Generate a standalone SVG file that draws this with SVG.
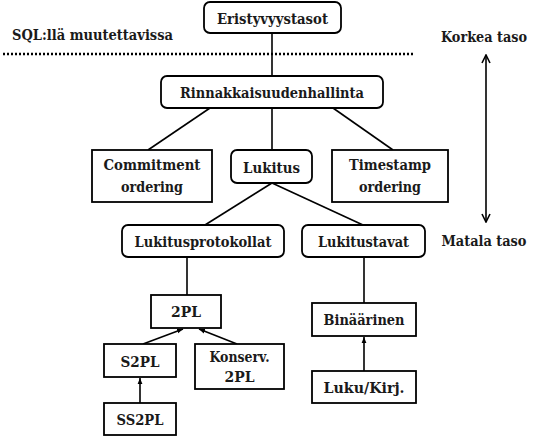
<svg xmlns="http://www.w3.org/2000/svg" width="541" height="440" viewBox="0 0 541 440">
<style>
.box{fill:#fff;stroke:#000;stroke-width:1.8}
.t{font-family:"DejaVu Serif","Liberation Serif",serif;font-weight:bold;font-size:15px;fill:#1a1a1a;text-anchor:middle}
.s{font-size:14px}
.c{stroke:#000;stroke-width:1.6;fill:none}
</style>
<defs>
<marker id="ah" viewBox="0 0 10 10" refX="10" refY="5" markerWidth="6" markerHeight="6" orient="auto-start-reverse" markerUnits="userSpaceOnUse">
<path d="M0,1 L10,5 L0,9 z" fill="#000"/>
</marker>
<marker id="va" viewBox="0 0 10 10" refX="9" refY="5" markerWidth="10" markerHeight="10" orient="auto-start-reverse" markerUnits="userSpaceOnUse">
<path d="M1,1 L9,5 L1,9" fill="none" stroke="#000" stroke-width="1.6"/>
</marker>
</defs>
<rect width="541" height="440" fill="#fff"/>
<g id="connectors">
<line class="c" x1="272" y1="33" x2="272" y2="76"/>
<line class="c" x1="210" y1="108" x2="148" y2="150"/>
<line class="c" x1="272" y1="108" x2="272" y2="150"/>
<line class="c" x1="333" y1="108" x2="393" y2="150"/>
<line class="c" x1="272" y1="183" x2="205" y2="225"/>
<line class="c" x1="272" y1="183" x2="363" y2="225"/>
<line class="c" x1="187" y1="257" x2="187" y2="295"/>
<line class="c" x1="364" y1="257" x2="364" y2="303"/>
<line class="c" x1="143" y1="344" x2="183" y2="329" marker-end="url(#ah)"/>
<line class="c" x1="237" y1="344" x2="199" y2="329" marker-end="url(#ah)"/>
<line class="c" x1="140" y1="403" x2="140" y2="378" marker-end="url(#ah)"/>
<line class="c" x1="364" y1="371" x2="364" y2="337" marker-end="url(#ah)"/>
</g>
<g id="level-divider">
<line x1="3" y1="54" x2="413" y2="54" stroke="#000" stroke-width="2.5" stroke-dasharray="2 2"/>
<text class="t" x="12" y="40" style="text-anchor:start" textLength="161" lengthAdjust="spacingAndGlyphs">SQL:llä muutettavissa</text>
</g>
<g id="level-axis">
<text class="t s" x="484" y="42" textLength="86" lengthAdjust="spacingAndGlyphs">Korkea taso</text>
<line class="c" x1="486" y1="55" x2="486" y2="222" marker-start="url(#va)" marker-end="url(#va)"/>
<text class="t s" x="484" y="246" textLength="85" lengthAdjust="spacingAndGlyphs">Matala taso</text>
</g>
<g id="eristyvyystasot">
<rect class="box" x="204" y="2" width="137" height="31" rx="6"/>
<text class="t" x="272.5" y="24" textLength="111" lengthAdjust="spacingAndGlyphs">Eristyvyystasot</text>
</g>
<g id="rinnakkaisuudenhallinta">
<rect class="box" x="161" y="76" width="222" height="32" rx="6"/>
<text class="t" x="272" y="98" textLength="184" lengthAdjust="spacingAndGlyphs">Rinnakkaisuudenhallinta</text>
</g>
<g id="commitment-ordering">
<rect class="box" x="92" y="150" width="120" height="52"/>
<text class="t" x="152" y="170" textLength="97" lengthAdjust="spacingAndGlyphs">Commitment</text>
<text class="t" x="152" y="192" textLength="62" lengthAdjust="spacingAndGlyphs">ordering</text>
</g>
<g id="lukitus">
<rect class="box" x="231" y="150" width="81" height="33" rx="6"/>
<text class="t" x="271.5" y="173" textLength="57" lengthAdjust="spacingAndGlyphs">Lukitus</text>
</g>
<g id="timestamp-ordering">
<rect class="box" x="332" y="150" width="116" height="52"/>
<text class="t" x="390" y="170" textLength="82" lengthAdjust="spacingAndGlyphs">Timestamp</text>
<text class="t" x="390" y="192" textLength="62" lengthAdjust="spacingAndGlyphs">ordering</text>
</g>
<g id="lukitusprotokollat">
<rect class="box" x="122" y="225" width="162" height="32" rx="6"/>
<text class="t" x="203" y="247" textLength="137" lengthAdjust="spacingAndGlyphs">Lukitusprotokollat</text>
</g>
<g id="lukitustavat">
<rect class="box" x="302" y="225" width="123" height="32" rx="6"/>
<text class="t" x="363.5" y="247" textLength="91" lengthAdjust="spacingAndGlyphs">Lukitustavat</text>
</g>
<g id="n2pl">
<rect class="box" x="151" y="295" width="70" height="33"/>
<text class="t" x="186" y="317" textLength="30" lengthAdjust="spacingAndGlyphs">2PL</text>
</g>
<g id="s2pl">
<rect class="box" x="104" y="344" width="72" height="33"/>
<text class="t" x="140" y="367" textLength="39" lengthAdjust="spacingAndGlyphs">S2PL</text>
</g>
<g id="konserv-2pl">
<rect class="box" x="195" y="344" width="89" height="45"/>
<text class="t" x="239.5" y="362" textLength="60" lengthAdjust="spacingAndGlyphs">Konserv.</text>
<text class="t" x="239.5" y="382" textLength="30" lengthAdjust="spacingAndGlyphs">2PL</text>
</g>
<g id="ss2pl">
<rect class="box" x="104" y="403" width="72" height="32"/>
<text class="t" x="140" y="425" textLength="47" lengthAdjust="spacingAndGlyphs">SS2PL</text>
</g>
<g id="binaarinen">
<rect class="box" x="312" y="303" width="104" height="33"/>
<text class="t" x="364" y="325" textLength="81" lengthAdjust="spacingAndGlyphs">Binäärinen</text>
</g>
<g id="luku-kirj">
<rect class="box" x="312" y="371" width="104" height="32"/>
<text class="t" x="364" y="393" textLength="81" lengthAdjust="spacingAndGlyphs">Luku/Kirj.</text>
</g>
</svg>
